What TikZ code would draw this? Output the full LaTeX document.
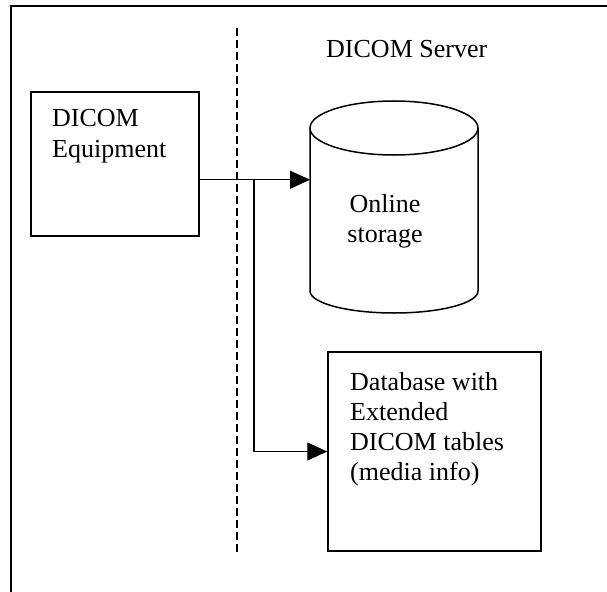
\documentclass[tikz,border=0pt]{standalone}
\usepackage{fontspec}
\setmainfont{Liberation Serif}
\usetikzlibrary{arrows.meta}
\begin{document}
\begin{tikzpicture}[x=1pt,y=-1pt,
  txt/.style={inner sep=0pt, font=\fontsize{26}{30}\selectfont},
  boxed/.style={draw, line width=1.5pt, inner sep=0pt},
  frameline/.style={line width=2pt},
  divider/.style={line width=1.5pt, dash pattern=on 8pt off 4pt},
  link/.style={line width=1.3pt, -{Triangle[length=20pt,width=18pt]}}]
\useasboundingbox (0,0) rectangle (607,591);
\clip (0,0) rectangle (607,591);

% outer frame (top and left edges)
\draw[frameline] (11,600) -- (11,6) -- (620,6);

% client / server divider
\coordinate (dtop) at (237,28);
\coordinate (dbot) at (237,552);
\draw[divider] (dtop) -- (dbot);

% multi-line labels are anchored at the baseline of their last line
\node[txt, anchor=base west] (srv) at (326,58) {DICOM Server};

% modality
\node[boxed, minimum width=168pt, minimum height=144pt] (eq) at (115,164) {};
\node[txt, anchor=base west, align=left] (eqtext) at (52,157) {DICOM\\Equipment};
\path (eq.south east) ++(0,-57) coordinate (eqport);

% online storage cylinder
\draw[line width=1.5pt] (310,128) -- (310,291)
  arc[start angle=180, end angle=0, x radius=84, y radius=22] -- (478,128);
\draw[line width=1.5pt] (394,128) ellipse [x radius=84, y radius=27];
\coordinate (cylW) at (310,214);
\node[txt, anchor=base, align=center] (store) at (385,242) {Online\\storage};

% database box
\node[boxed, minimum width=213pt, minimum height=199pt] (db) at (434.5,451.5) {};
\node[txt, anchor=base west, align=left] (dbtext) at (350,480)
  {Database with\\Extended\\DICOM tables\\(media info)};

% connectors
\coordinate (split) at (254,179);
\draw[link] (eqport) -- (eqport -| cylW);
\draw[link] (split) |- (db.west);
\end{tikzpicture}
\end{document}
